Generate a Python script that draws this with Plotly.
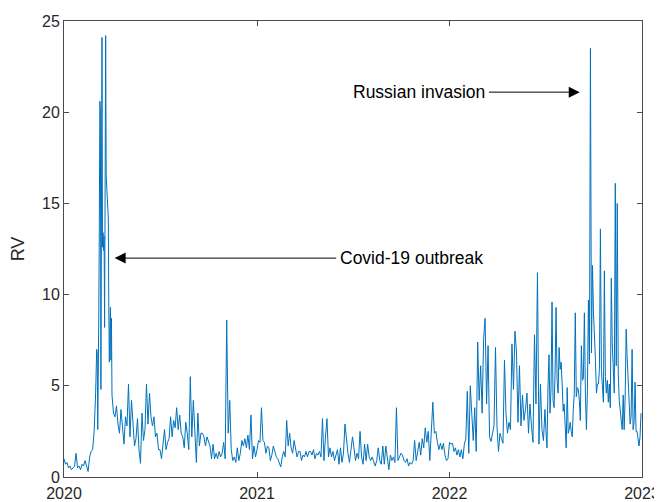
import pandas as pd
import plotly.graph_objects as go

# ---- RV values, by period ----
rv_2020_janfeb = [1.0, 0.7, 0.8, 0.5, 0.6, 0.4, 0.5, 0.6, 1.3, 0.5, 0.6, 0.4, 0.7, 0.6, 0.9,
                  0.5, 0.3, 1.1, 1.4, 1.5, 2.5]
rv_2020_mar = [4.6, 5.5, 7.0, 6.8, 2.6, 5.0, 9.0, 14.0, 20.6, 20.0, 4.8, 15.0, 24.1, 12.6, 13.4,
               12.4, 13.2, 8.2, 13.0, 24.2, 16.5, 16.0, 15.6, 15.0, 14.2, 9.0, 6.3, 8.0, 9.3, 6.4, 8.7]
rv_2020_q2 = [4.5, 3.5, 3.3, 3.9, 2.9, 2.4, 3.7, 2.6, 1.8, 3.3, 2.8, 5.1, 2.2, 4.2, 2.6, 1.7,
              2.1, 3.2, 1.5, 0.75, 3.5, 2.0, 2.6, 5.1, 2.9, 4.6, 3.3, 2.8, 3.3, 2.2, 2.4, 1.5]
rv_2020_q3 = [1.5, 1.0, 1.8, 2.6, 1.5, 1.9, 2.1, 3.3, 2.2, 3.1, 2.7, 3.8, 2.6, 3.4, 2.4, 2.2,
              1.6, 3.0, 2.4, 1.5, 5.5, 2.2, 4.2, 2.6, 0.8, 3.5, 1.7, 2.4, 2.4, 2.2, 1.7, 2.2]
rv_2020_q4 = [1.9, 1.7, 1.0, 1.8, 1.0, 1.3, 1.0, 1.4, 1.1, 1.3, 1.9, 1.0, 8.6, 2.4, 4.2, 1.5,
              0.9, 1.1, 0.8, 1.6, 0.9, 1.3, 2.0, 1.7, 2.1, 1.6, 2.3, 1.5, 3.4, 1.0, 1.7, 1.1]
rv_2021_q1 = [1.5, 2.0, 1.9, 3.8, 2.0, 1.9, 1.3, 1.7, 1.6, 0.9, 1.2, 1.7, 1.4, 1.1, 1.0, 0.7,
              0.55, 1.1, 1.4, 1.1, 3.1, 1.7, 2.4, 1.6, 1.3, 2.0, 1.4, 1.1, 1.4, 1.4, 0.9, 1.2]
rv_2021_q2 = [1.1, 1.4, 1.1, 1.4, 1.4, 1.2, 1.5, 1.0, 1.3, 1.2, 1.4, 1.1, 3.2, 0.9, 2.2, 3.2,
              1.1, 1.6, 1.1, 1.4, 0.9, 1.2, 1.5, 0.7, 1.6, 0.8, 1.3, 2.9, 2.0, 1.3, 0.8, 1.5]
rv_2021_q3 = [2.2, 1.6, 0.9, 1.3, 1.0, 2.5, 1.1, 0.7, 1.8, 0.9, 1.8, 1.1, 0.9, 1.1, 0.8, 0.6,
              0.9, 1.6, 0.9, 0.7, 1.7, 0.7, 1.7, 0.9, 0.4, 1.2, 0.9, 1.1, 0.8, 3.8, 0.9, 1.1]
rv_2021_q4 = [1.3, 1.2, 0.9, 0.8, 1.0, 0.6, 0.8, 0.7, 0.9, 2.0, 0.9, 1.4, 1.9, 1.2, 2.1, 1.6,
              2.7, 1.9, 2.5, 0.9, 2.6, 4.1, 2.4, 2.5, 1.9, 1.5, 1.85, 1.5, 1.85, 1.2, 0.9, 1.0]
rv_2022_q1 = [1.9, 1.8, 1.85, 1.4, 1.6, 1.2, 1.5, 1.1, 1.5, 1.0, 1.8, 2.1, 4.7, 1.3, 5.0, 3.0,
              2.0, 3.8, 1.4, 7.4, 4.2, 6.1, 3.5, 7.6, 8.7, 4.0, 7.2, 2.2, 1.95, 2.4, 2.8, 7.1]
rv_2022_q2 = [2.8, 1.4, 2.4, 2.1, 1.85, 6.4, 3.5, 2.4, 3.0, 2.6, 7.3, 4.8, 8.0, 6.85, 3.0, 6.1,
              2.8, 4.5, 3.1, 3.7, 4.6, 2.4, 4.0, 2.8, 1.9, 7.8, 4.0, 11.2, 1.8, 5.1, 2.6, 2.0]
rv_2022_q3 = [3.7, 2.5, 1.6, 5.0, 6.7, 3.5, 4.8, 9.6, 4.2, 3.8, 5.7, 9.3, 5.3, 4.6, 7.1, 5.9,
              6.3, 5.1, 3.6, 4.0, 2.8, 1.6, 4.9, 2.4, 2.6, 3.0, 2.5, 2.2, 3.7, 4.6, 9.0, 4.4,
              4.9, 4.8, 4.2, 3.1, 7.2, 5.3, 5.4, 9.0, 4.6, 2.6, 4.7, 9.7, 6.2, 23.5, 6.8, 11.6]
rv_2022_q4 = [9.0, 8.0, 6.4, 4.6, 5.1, 5.1, 5.9, 13.6, 5.9, 5.0, 4.1, 11.3, 5.5, 4.6, 5.3, 4.1,
              5.1, 3.8, 10.9, 7.3, 5.7, 4.6, 16.1, 6.1, 15.0, 5.7, 4.2, 3.5, 3.3, 2.6, 4.5, 2.6,
              4.4, 8.1, 6.6, 5.5, 4.4, 2.9, 3.3, 7.0, 2.6, 3.0, 5.2, 2.5, 2.5, 2.0, 1.7, 2.2, 3.5]

period_bounds = [
    ("2020-01-01", "2020-03-01", rv_2020_janfeb),
    ("2020-03-01", "2020-04-01", rv_2020_mar),
    ("2020-04-01", "2020-07-01", rv_2020_q2),
    ("2020-07-01", "2020-10-01", rv_2020_q3),
    ("2020-10-01", "2021-01-01", rv_2020_q4),
    ("2021-01-01", "2021-04-01", rv_2021_q1),
    ("2021-04-01", "2021-07-01", rv_2021_q2),
    ("2021-07-01", "2021-10-01", rv_2021_q3),
    ("2021-10-01", "2022-01-01", rv_2021_q4),
    ("2022-01-01", "2022-04-01", rv_2022_q1),
    ("2022-04-01", "2022-07-01", rv_2022_q2),
    ("2022-07-01", "2022-10-01", rv_2022_q3),
    ("2022-10-01", "2023-01-01", rv_2022_q4),
]

year_ticks = ["2020-01-01", "2021-01-01", "2022-01-01", "2023-01-01"]
year_labels = ["2020", "2021", "2022", "2023"]
y_ticks = [0, 5, 10, 15, 20, 25]

dates, values = [], []
for start, end, vals in period_bounds:
    d = pd.date_range(start, end, periods=len(vals) + 1)[:-1]
    dates.extend(d)
    values.extend(vals)

fig = go.Figure()
fig.add_trace(go.Scatter(x=dates, y=values, mode="lines",
                         line=dict(color="#0072BD", width=1), showlegend=False))

font_family = "Liberation Sans, Arial, Helvetica, sans-serif"
axis_color = "#4a4a4a"
text_color = "#262626"

# annotations (arrows + labels)
fig.add_annotation(x="2020-04-06", y=12.0, ax="2021-06-03", ay=12.0,
                   xref="x", yref="y", axref="x", ayref="y", text="",
                   showarrow=True, arrowhead=2, arrowsize=2.2, arrowwidth=1, arrowcolor="black")
fig.add_annotation(x="2021-06-04", y=12.0, xref="x", yref="y", text="Covid-19 outbreak",
                   showarrow=False, xanchor="left", yanchor="middle",
                   font=dict(family=font_family, size=17.5, color="black"))
fig.add_annotation(x="2022-09-05", y=21.1, ax="2022-03-14", ay=21.1,
                   xref="x", yref="y", axref="x", ayref="y", text="",
                   showarrow=True, arrowhead=2, arrowsize=2.2, arrowwidth=1, arrowcolor="black")
fig.add_annotation(x="2022-03-13", y=21.1, xref="x", yref="y", text="Russian invasion",
                   showarrow=False, xanchor="right", yanchor="middle",
                   font=dict(family=font_family, size=17.5, color="black"))

# the page body adds an 8px offset, so the figure is sized 654x494
fig.update_layout(
    width=654, height=494,
    margin=dict(l=56, r=20, t=13, b=25),
    plot_bgcolor="white", paper_bgcolor="white",
    font=dict(family=font_family, size=17, color=text_color),
    xaxis=dict(type="date", range=["2020-01-01", "2023-01-01"],
               tickvals=year_ticks, ticktext=year_labels,
               ticks="inside", ticklen=5, tickcolor=axis_color,
               showline=True, linecolor=axis_color, linewidth=1, mirror="allticks",
               showgrid=False, zeroline=False, automargin=False,
               ticklabelstandoff=2,
               tickfont=dict(size=16, color=text_color)),
    yaxis=dict(range=[0, 25], tickvals=y_ticks,
               ticks="inside", ticklen=5, tickcolor=axis_color,
               showline=True, linecolor=axis_color, linewidth=1, mirror="allticks",
               showgrid=False, zeroline=False, automargin=False,
               title=dict(text="RV", font=dict(size=18, color=text_color), standoff=16),
               tickfont=dict(size=16, color=text_color)),
)

fig.write_html("out.html")
